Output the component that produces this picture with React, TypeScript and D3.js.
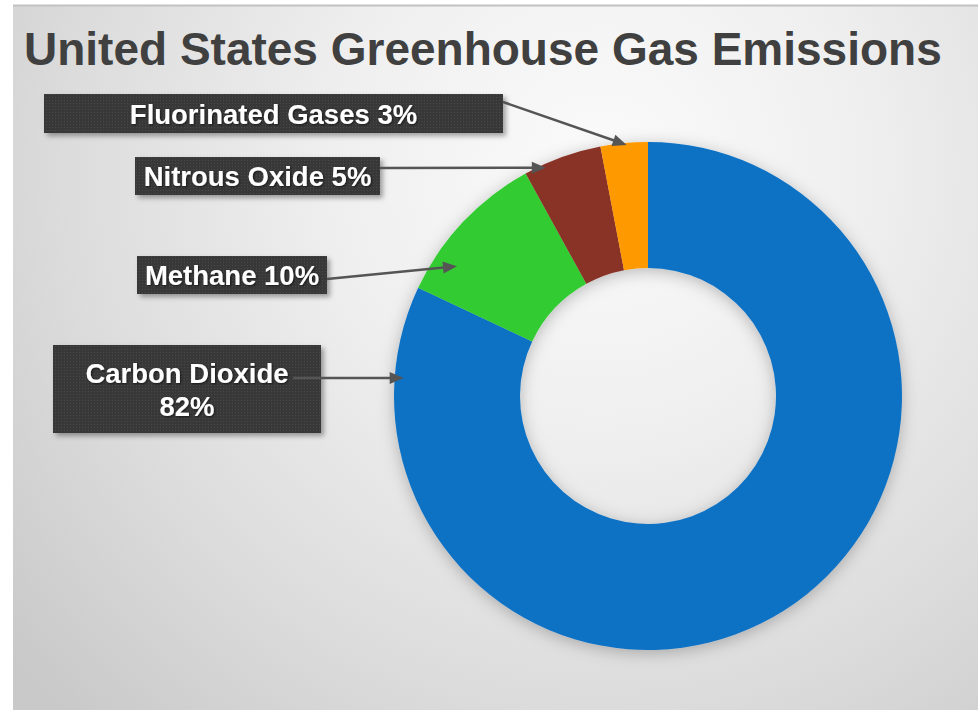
import React from "react";
import * as d3 from "d3";

const title = "United States Greenhouse Gas Emissions";
const categories = ["Carbon Dioxide", "Methane", "Nitrous Oxide", "Fluorinated Gases"];
const values = [82, 10, 5, 3];
const sliceColors = ["#0E71C4", "#33CC33", "#893226", "#FF9900"];
const labelLines = [["Carbon Dioxide", "82%"], ["Methane 10%"], ["Nitrous Oxide 5%"], ["Fluorinated Gases 3%"]];

// layout (positions / styles)
const W = 978;
const H = 710;
const cx = 648;
const cy = 396;
const outerR = 254;
const innerR = 128;
const boxLayout = [
  { x: 53, y: 345, w: 268, h: 88, sx: 293, sy: 378, frac: 0.929, r: 245 },
  { x: 137, y: 256, w: 190, h: 38, sx: 327, sy: 279, frac: 0.25, r: 231 },
  { x: 135, y: 157, w: 245, h: 38, sx: 380, sy: 168, frac: 0.26, r: 250 },
  { x: 44, y: 94, w: 459, h: 39, sx: 503, sy: 102, frac: 0.55, r: 252 },
];

export default function App() {
  const pie = d3.pie<number>().sort(null).value((d) => d);
  const arcs = pie(values);
  const arc = d3.arc<d3.PieArcDatum<number>>().innerRadius(innerR).outerRadius(outerR);

  const font = "'Liberation Sans', Arial, Helvetica, sans-serif";

  return (
    <svg
      width={W}
      height={H}
      style={{ position: "absolute", left: 0, top: 0, display: "block" }}
    >
      <defs>
        <radialGradient id="bg" gradientUnits="userSpaceOnUse" cx={600} cy={170} r={760}>
          <stop offset="0" stopColor="#fbfbfb" />
          <stop offset="0.35" stopColor="#efefef" />
          <stop offset="0.7" stopColor="#dcdcdc" />
          <stop offset="1" stopColor="#c9c9c9" />
        </radialGradient>
        <pattern id="tex" width="3" height="3" patternUnits="userSpaceOnUse">
          <rect width="3" height="3" fill="#383838" />
          <rect x="1" y="1" width="1" height="1" fill="#4a4a4a" />
        </pattern>
        <filter id="ringShadow" x="-20%" y="-20%" width="140%" height="140%">
          <feDropShadow dx="0" dy="3" stdDeviation="8" floodColor="#000" floodOpacity="0.25" />
        </filter>
        <filter id="boxShadow" x="-10%" y="-30%" width="120%" height="160%">
          <feDropShadow dx="3" dy="3" stdDeviation="2.5" floodColor="#000" floodOpacity="0.35" />
        </filter>
        <filter id="txtShadow" x="-5%" y="-20%" width="110%" height="140%">
          <feDropShadow dx="1" dy="1" stdDeviation="0.8" floodColor="#000" floodOpacity="0.6" />
        </filter>
      </defs>

      <rect x={0} y={0} width={W} height={H} fill="#ffffff" />
      <rect x={13} y={5} width={W - 13} height={H - 5} fill="url(#bg)" />
      <rect x={13} y={4.5} width={W - 13} height={2} fill="#c2c2c2" />

      <text
        x={24}
        y={65}
        fontFamily={font}
        fontWeight="bold"
        fontSize={46}
        fill="#404040"
      >
        {title}
      </text>

      <g transform={`translate(${cx},${cy})`} filter="url(#ringShadow)">
        {arcs.map((a, i) => (
          <path key={categories[i]} d={arc(a) || ""} fill={sliceColors[i]} />
        ))}
      </g>

      {boxLayout.map((b, i) => {
        const lines = labelLines[i];
        const midY = b.y + b.h / 2;
        const lh = 33;
        const first = midY + 10 - ((lines.length - 1) * lh) / 2;
        return (
          <g key={"box" + i}>
            <rect x={b.x} y={b.y} width={b.w} height={b.h} fill="url(#tex)" filter="url(#boxShadow)" />
            <g filter="url(#txtShadow)">
              {lines.map((t, j) => (
                <text
                  key={j}
                  x={b.x + b.w / 2}
                  y={first + j * lh}
                  textAnchor="middle"
                  fontFamily={font}
                  fontWeight="bold"
                  fontSize={27.5}
                  fill="#ffffff"
                >
                  {t}
                </text>
              ))}
            </g>
          </g>
        );
      })}

      {boxLayout.map((b, i) => {
        const a = arcs[i];
        const ang = a.startAngle + b.frac * (a.endAngle - a.startAngle);
        const tx = cx + b.r * Math.sin(ang);
        const ty = cy - b.r * Math.cos(ang);
        const dx = tx - b.sx;
        const dy = ty - b.sy;
        const len = Math.sqrt(dx * dx + dy * dy);
        const ux = dx / len;
        const uy = dy / len;
        const hl = 14;
        const hw = 6;
        const bx = tx - ux * hl;
        const by = ty - uy * hl;
        const p1 = [bx - uy * hw, by + ux * hw];
        const p2 = [bx + uy * hw, by - ux * hw];
        return (
          <g key={"arrow" + i}>
            <line
              x1={b.sx}
              y1={b.sy}
              x2={tx - ux * 8}
              y2={ty - uy * 8}
              stroke="#555555"
              strokeWidth={2.5}
            />
            <polygon
              points={`${tx},${ty} ${p1[0]},${p1[1]} ${p2[0]},${p2[1]}`}
              fill="#555555"
            />
          </g>
        );
      })}
    </svg>
  );
}
